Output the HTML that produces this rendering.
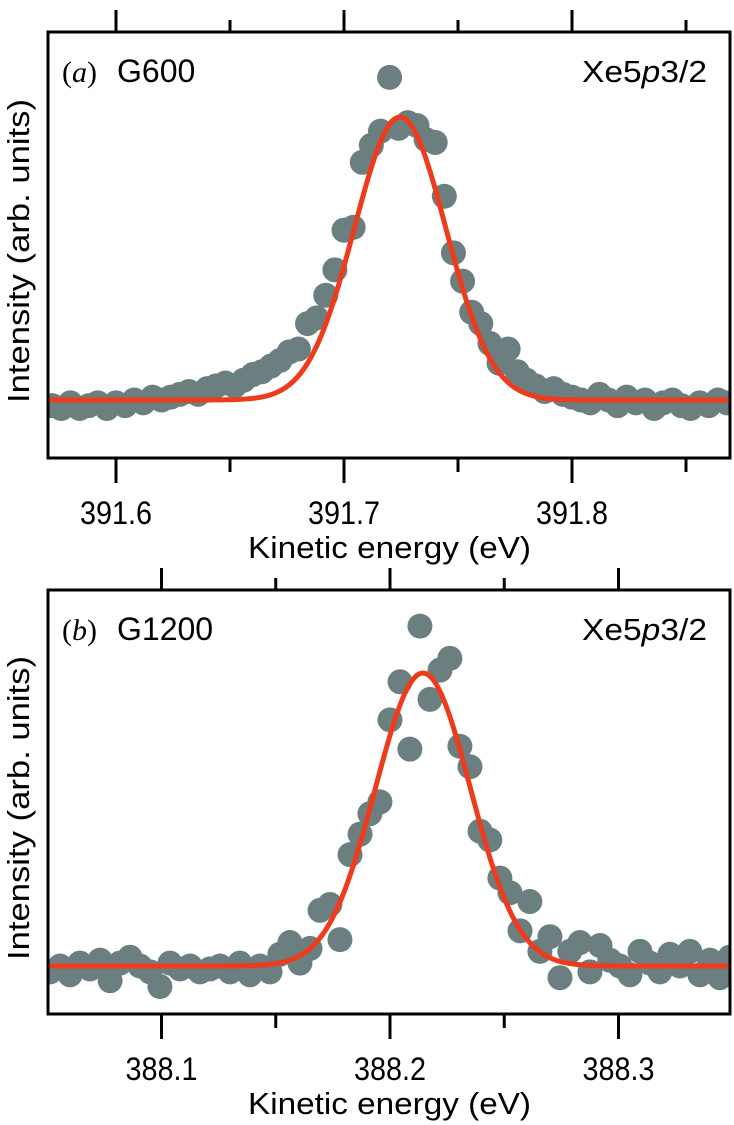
<!DOCTYPE html>
<html><head><meta charset="utf-8">
<style>
html,body{margin:0;padding:0;background:#fff;}
svg{display:block;}
text{font-family:"Liberation Sans",Arial,sans-serif;fill:#000;}
</style></head>
<body>
<svg id="chart" width="734" height="1125" viewBox="0 0 734 1125"></svg>
<script>
// ---- Panel (a) data ----
const energiesA = [391.572,391.576,391.580,391.584,391.588,391.592,391.596,391.600,391.604,391.608,391.612,391.616,391.620,391.624,391.628,391.632,391.636,391.640,391.644,391.648,391.652,391.656,391.660,391.664,391.668,391.672,391.676,391.680,391.684,391.688,391.692,391.696,391.700,391.704,391.708,391.712,391.716,391.720,391.724,391.728,391.732,391.736,391.740,391.744,391.748,391.752,391.756,391.760,391.764,391.768,391.772,391.776,391.780,391.784,391.788,391.792,391.796,391.800,391.804,391.808,391.812,391.816,391.820,391.824,391.828,391.832,391.836,391.840,391.844,391.848,391.852,391.856,391.860,391.864,391.868];
const intensitiesA = [-0.02,-0.03,-0.01,-0.03,-0.02,-0.01,-0.03,-0.01,-0.02,0.0,-0.01,0.01,0.0,0.01,0.02,0.03,0.02,0.04,0.05,0.06,0.05,0.07,0.09,0.10,0.12,0.14,0.17,0.18,0.27,0.29,0.37,0.46,0.60,0.61,0.84,0.90,0.95,1.14,0.96,0.98,0.97,0.92,0.91,0.72,0.52,0.42,0.31,0.27,0.20,0.13,0.18,0.10,0.07,0.05,0.03,0.04,0.02,0.01,0.0,-0.01,0.02,0.0,-0.02,0.01,-0.01,0.0,-0.03,-0.01,0.0,-0.02,-0.03,-0.01,-0.02,0.0,-0.01];
const fitA = [1.0, 391.7246, 0.0201]; // amplitude, center, sigma
const ticksA = [391.6, 391.7, 391.8];
const minorA = [391.65, 391.75, 391.85];

// ---- Panel (b) data ----
const energiesB = [388.0512,388.0556,388.0600,388.0643,388.0687,388.0731,388.0775,388.0818,388.0862,388.0906,388.0950,388.0993,388.1037,388.1081,388.1125,388.1168,388.1212,388.1256,388.1300,388.1343,388.1387,388.1431,388.1475,388.1518,388.1562,388.1606,388.1650,388.1694,388.1737,388.1781,388.1825,388.1869,388.1912,388.1956,388.2000,388.2044,388.2087,388.2131,388.2175,388.2219,388.2262,388.2306,388.2350,388.2394,388.2437,388.2481,388.2525,388.2569,388.2612,388.2656,388.2700,388.2744,388.2787,388.2831,388.2875,388.2919,388.2962,388.3006,388.3050,388.3094,388.3137,388.3181,388.3225,388.3269,388.3312,388.3356,388.3400,388.3444,388.3487];
const intensitiesB = [-0.02,0.0,-0.03,0.01,-0.01,0.02,-0.05,0.01,0.03,0.0,-0.02,-0.07,0.01,-0.01,0.0,-0.02,-0.01,0.0,-0.02,0.01,-0.03,0.0,-0.02,0.04,0.08,0.01,0.06,0.19,0.21,0.09,0.38,0.45,0.52,0.56,0.84,0.97,0.74,1.16,0.91,1.01,1.05,0.75,0.68,0.46,0.43,0.30,0.25,0.12,0.22,0.05,0.10,-0.04,0.05,0.08,-0.02,0.07,0.02,0.0,-0.03,0.05,0.01,-0.02,0.04,0.0,0.05,-0.03,0.02,-0.04,0.03];
const fitB = [1.0, 388.2144, 0.0208];
const ticksB = [388.1, 388.2, 388.3];
const minorB = [388.15, 388.25, 388.35];

const NS = "http://www.w3.org/2000/svg";
const svg = document.getElementById('chart');
function mk(tag, attrs, parent) {
  const e = document.createElementNS(NS, tag);
  for (const k in attrs) e.setAttribute(k, attrs[k]);
  (parent || svg).appendChild(e);
  return e;
}

function panel(cfg) {
  const g = mk('g', {});
  
  
  const L = 48, R = 730, T = cfg.top, B = cfg.bottom;
  const xScale = e => cfg.refX + (e - cfg.refE) * cfg.pxPerEv;
  const yScale = v => cfg.base - v * cfg.amp;

  const cid = 'clip-' + cfg.name;
  const defs = mk('defs', {}, g);
  const cp = mk('clipPath', {id: cid}, defs);
  mk('rect', {x: L, y: T, width: R - L, height: B - T}, cp);

  const pg = mk('g', {'clip-path': 'url(#' + cid + ')'}, g);
  
  
  cfg.energies.forEach((e, i) => {
    const c = mk('circle', {cx: xScale(e), cy: yScale(cfg.vals[i]), r: 12.5, fill: '#6c7f80'}, pg);
    
    
  });
  let d = '';
  const e0 = cfg.refE + (L - cfg.refX) / cfg.pxPerEv, e1 = cfg.refE + (R - cfg.refX) / cfg.pxPerEv;
  for (let k = 0; k <= 300; k++) {
    const e = e0 + (e1 - e0) * k / 300;
    const v = cfg.fit[0] * Math.exp(-Math.pow(e - cfg.fit[1], 2) / (2 * cfg.fit[2] * cfg.fit[2]));
    d += (k ? 'L' : 'M') + xScale(e).toFixed(2) + ',' + yScale(v).toFixed(2);
  }
  const fl = mk('path', {d: d, fill: 'none', stroke: '#ee3b1c', 'stroke-width': 5, 'clip-path': 'url(#' + cid + ')'}, g);
  
  

  const fr = mk('rect', {x: L, y: T, width: R - L, height: B - T, fill: 'none', stroke: '#000', 'stroke-width': 3}, g);
  
  

  cfg.ticks.forEach(t => {
    const x = xScale(t);
    mk('line', {x1: x, x2: x, y1: B, y2: B + 25, stroke: '#000', 'stroke-width': 3}, g);
    mk('line', {x1: x, x2: x, y1: T, y2: T - 22, stroke: '#000', 'stroke-width': 3}, g);
    const tl = mk('text', {x: x - 36, y: B + 66, 'font-size': 32, textLength: 72, lengthAdjust: 'spacingAndGlyphs'}, g);
    tl.textContent = t.toFixed(1);
    
    
  });
  cfg.minor.forEach(t => {
    const x = xScale(t);
    if (x > R + 1) return;
    mk('line', {x1: x, x2: x, y1: B, y2: B + 14, stroke: '#000', 'stroke-width': 3}, g);
    mk('line', {x1: x, x2: x, y1: T, y2: T - 12, stroke: '#000', 'stroke-width': 3}, g);
  });

  const xt = mk('text', {x: 248, y: B + 100, 'font-size': 31, textLength: 283, lengthAdjust: 'spacingAndGlyphs'}, g);
  xt.textContent = 'Kinetic energy (eV)';
  
  

  const cy = (T + B) / 2 + 6;
  const yt = mk('text', {x: -152, y: 0, 'font-size': 31, textLength: 304, lengthAdjust: 'spacingAndGlyphs', transform: 'translate(29,' + cy + ') rotate(-90)'}, g);
  yt.textContent = 'Intensity (arb. units)';
  
  

  const lab = mk('text', {x: 62, y: T + 50, 'font-size': 32}, g);
  
  
  const t1 = mk('tspan', {'font-family': '"Liberation Serif",serif', 'font-size': 30}, lab);
  t1.textContent = '(';
  const t2 = mk('tspan', {'font-family': '"Liberation Serif",serif', 'font-style': 'italic', 'font-size': 30}, lab);
  t2.textContent = cfg.letter;
  const t3 = mk('tspan', {'font-family': '"Liberation Serif",serif', 'font-size': 30}, lab);
  t3.textContent = ')';
  const t4 = mk('tspan', {x: 117}, lab);
  t4.textContent = cfg.grating;

  const xe = mk('text', {x: 582, y: T + 50, 'font-size': 31, textLength: 125, lengthAdjust: 'spacingAndGlyphs'}, g);
  
  
  const s1 = mk('tspan', {}, xe); s1.textContent = 'Xe5';
  const s2 = mk('tspan', {'font-style': 'italic'}, xe); s2.textContent = 'p';
  const s3 = mk('tspan', {}, xe); s3.textContent = '3/2';
}

panel({name: 'panel-a-g600', top: 32, bottom: 458, base: 400, amp: 283,
  refE: 391.6, refX: 116, pxPerEv: 2280, energies: energiesA, vals: intensitiesA,
  fit: fitA, ticks: ticksA, minor: minorA, letter: 'a', grating: 'G600'});
panel({name: 'panel-b-g1200', top: 590, bottom: 1014, base: 966, amp: 293,
  refE: 388.2, refX: 390, pxPerEv: 2285, energies: energiesB, vals: intensitiesB,
  fit: fitB, ticks: ticksB, minor: minorB, letter: 'b', grating: 'G1200'});
</script>
</body></html>
